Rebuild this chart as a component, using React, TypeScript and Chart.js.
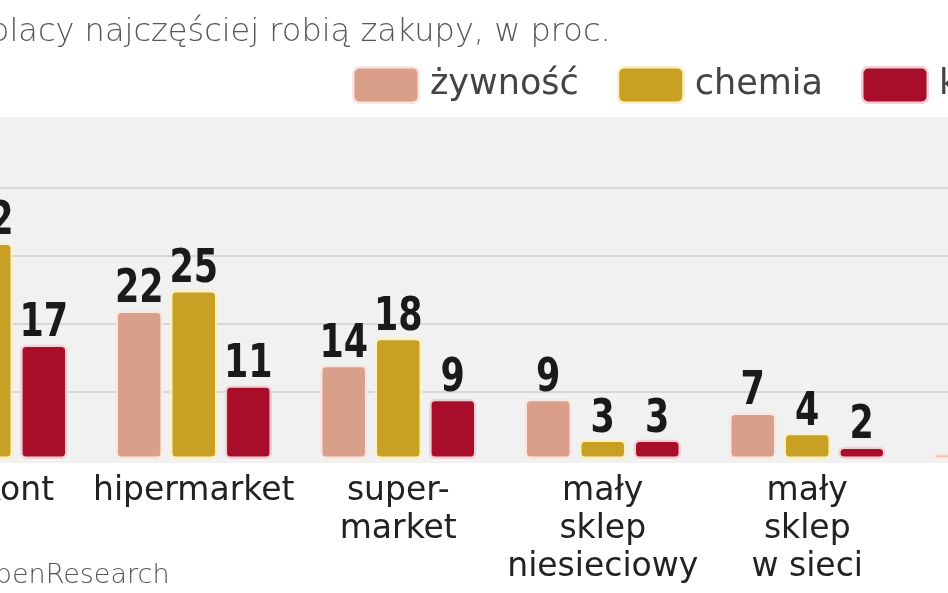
import { useEffect, useRef } from 'react'
import { Chart, registerables } from 'chart.js'

Chart.register(...registerables)

const categories = [
  ['dyskont'],
  ['hipermarket'],
  ['super-', 'market'],
  ['mały', 'sklep', 'niesieciowy'],
  ['mały', 'sklep', 'w sieci'],
  ['internet'],
]
const seriesNames = ['żywność', 'chemia', 'kosmetyki']
const foodValues = [44, 22, 14, 9, 7, 1]
const chemValues = [32, 25, 18, 3, 4, 1]
const cosmeticsValues = [17, 11, 9, 3, 2, 2]
const gridValues = [10, 20, 30, 40]
const titleText = 'Gdzie Polacy najczęściej robią zakupy, w proc.'
const sourceText = 'Źródło: OpenResearch'

const FONT = '"DejaVu Sans", sans-serif'
// where the legend starts, in canvas pixels
const LEGEND_X = 465

const decorPlugin = {
  id: 'decor',
  beforeDraw(chart: any) {
    const { ctx, chartArea: a } = chart
    ctx.save()
    ctx.fillStyle = '#f1f1f1'
    ctx.fillRect(a.left, a.top + 3, a.right - a.left, a.bottom - a.top)
    ctx.restore()
  },
  afterDatasetsDraw(chart: any) {
    const { ctx } = chart
    ctx.save()
    ctx.fillStyle = '#1a1a1a'
    ctx.textAlign = 'center'
    ctx.textBaseline = 'alphabetic'
    ctx.font = `bold 46px ${FONT}`
    chart.data.datasets.forEach((ds: any, i: number) => {
      chart.getDatasetMeta(i).data.forEach((bar: any, j: number) => {
        const { x, y } = bar.getProps(['x', 'y'], true)
        ctx.save()
        ctx.translate(x, y - 8)
        ctx.scale(0.76, 1)
        ctx.fillText(String(ds.data[j]), 0, 0)
        ctx.restore()
      })
    })
    ctx.restore()
  },
  afterDraw(chart: any) {
    const { ctx } = chart
    ctx.save()
    ctx.textAlign = 'left'
    ctx.textBaseline = 'alphabetic'
    ctx.fillStyle = '#555'
    ctx.font = `300 32px ${FONT}`
    ctx.fillText(titleText, -16, 41)
    ctx.font = `300 27px ${FONT}`
    ctx.fillText(sourceText, -18, 583)

    // legend
    ctx.font = `35px ${FONT}`
    ctx.textBaseline = 'middle'
    let x = LEGEND_X
    chart.data.datasets.forEach((ds: any) => {
      ctx.beginPath()
      ctx.roundRect(x + 1.25, 67.25, 65.5, 35.5, 6)
      ctx.fillStyle = ds.backgroundColor
      ctx.fill()
      ctx.lineWidth = 2.5
      ctx.strokeStyle = ds.borderColor
      ctx.stroke()
      ctx.fillStyle = '#444'
      ctx.fillText(ds.label, x + 78, 85)
      x += 78 + ctx.measureText(ds.label).width + 38
    })
    ctx.restore()
  },
}

export default function App() {
  const canvasRef = useRef<HTMLCanvasElement>(null)

  useEffect(() => {
    const canvas = canvasRef.current
    if (!canvas) return

    const common = {
      borderWidth: 2.5,
      borderRadius: 6,
      borderSkipped: false,
      categoryPercentage: 0.8,
      barPercentage: 0.87,
    }

    const chart = new Chart(canvas, {
      type: 'bar',
      data: {
        labels: categories,
        datasets: [
          {
            label: seriesNames[0],
            data: foodValues,
            backgroundColor: '#da9f8a',
            borderColor: '#fae6de',
            ...common,
          },
          {
            label: seriesNames[1],
            data: chemValues,
            backgroundColor: '#c8a024',
            borderColor: '#fbf0c0',
            ...common,
          },
          {
            label: seriesNames[2],
            data: cosmeticsValues,
            backgroundColor: '#a80e2a',
            borderColor: '#f4cfd5',
            ...common,
          },
        ],
      },
      options: {
        animation: false,
        responsive: true,
        maintainAspectRatio: false,
        layout: { padding: { top: 114, bottom: -5, left: 0, right: 0 } },
        plugins: {
          title: { display: false },
          tooltip: { enabled: false },
          legend: { display: false },
        },
        scales: {
          x: {
            grid: { display: false, drawTicks: false },
            border: { display: false },
            ticks: {
              color: '#222',
              padding: 12,
              autoSkip: false,
              maxRotation: 0,
              font: { family: FONT, size: 33, lineHeight: '38px' },
            },
          },
          y: {
            position: 'right',
            min: 0,
            max: 50.9,
            border: { display: false },
            ticks: { display: false, stepSize: 10 },
            grid: {
              drawTicks: false,
              lineWidth: 2,
              color: (c: any) => (gridValues.includes(c.tick?.value) ? '#d7d7d7' : 'rgba(0,0,0,0)'),
            },
            afterFit: (s: any) => {
              s.width = 69
            },
          },
        },
      } as any,
      plugins: [decorPlugin],
    })

    return () => chart.destroy()
  }, [])

  return (
    <div
      style={{
        position: 'fixed',
        left: 0,
        top: 0,
        width: 948,
        height: 593,
        overflow: 'hidden',
        background: '#fff',
      }}
    >
      <div style={{ position: 'absolute', left: -113, top: 0, width: 1296, height: 593 }}>
        <canvas ref={canvasRef} />
      </div>
    </div>
  )
}
